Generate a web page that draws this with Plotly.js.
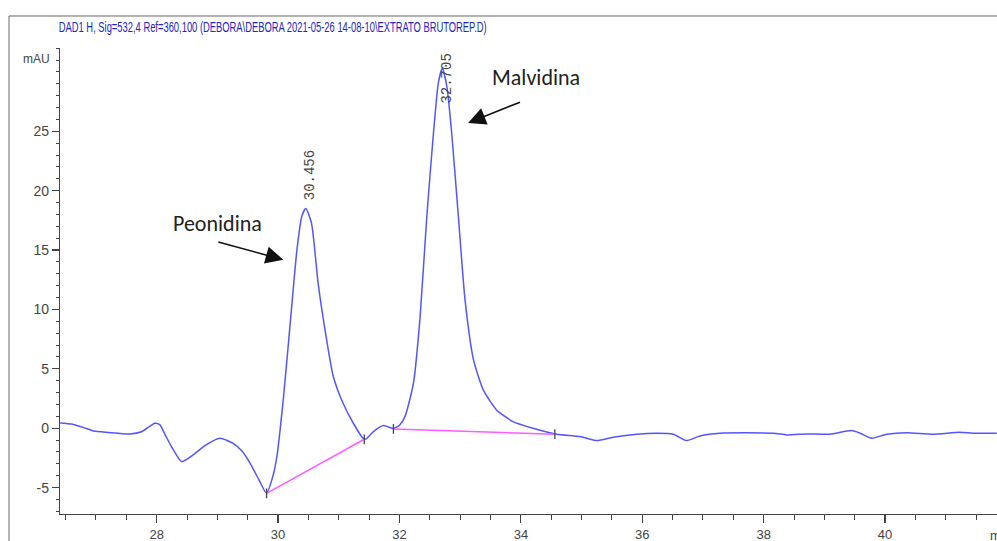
<!DOCTYPE html>
<html>
<head>
<meta charset="utf-8">
<script src="https://cdn.plot.ly/plotly-3.0.1.min.js"></script>
<style>html,body{margin:0;padding:0;background:#fff;}#chart{width:997px;height:541px;}</style>
</head>
<body>
<div id="chart"></div>
<script>
// Retention time (min) and detector signal (mAU)
const timeMin = [26.41,26.60,26.80,26.96,27.20,27.56,27.75,27.97,28.05,28.14,28.25,28.41,28.60,28.80,29.04,29.26,29.40,29.54,29.68,29.81,29.90,29.98,30.09,30.20,30.31,30.39,30.456,30.55,30.66,30.80,30.91,31.07,31.24,31.40,31.45,31.57,31.73,31.82,31.90,32.00,32.09,32.23,32.34,32.45,32.56,32.64,32.705,32.78,32.86,32.97,33.08,33.22,33.38,33.60,33.87,34.20,34.59,34.97,35.25,35.52,35.91,36.24,36.51,36.73,36.95,37.28,38.16,38.38,38.71,39.09,39.45,39.59,39.78,40.03,40.36,40.79,41.23,41.45,41.84];
const signalMAU = [0.45,0.35,0.05,-0.23,-0.35,-0.48,-0.30,0.42,0.30,-0.56,-1.6,-2.81,-2.25,-1.45,-0.84,-1.27,-1.9,-2.95,-4.3,-5.48,-4.3,-2.39,2.66,8.85,15.0,17.83,18.5,17.27,12.2,7.44,4.35,2.1,0.42,-0.84,-0.90,-0.28,0.22,0.10,-0.02,0.25,0.98,3.79,9.4,17.83,24.85,29.06,30.3,28.78,24.85,17.83,10.81,5.75,3.23,1.54,0.56,0.0,-0.50,-0.70,-1.04,-0.76,-0.50,-0.42,-0.50,-1.04,-0.65,-0.42,-0.42,-0.56,-0.48,-0.50,-0.20,-0.42,-0.84,-0.50,-0.37,-0.50,-0.34,-0.42,-0.42];

// Integration baselines (start/end time and signal)
const base1Time = [29.81, 31.42];
const base1Val = [-5.48, -0.93];
const base2Time = [31.90, 34.56];
const base2Val = [-0.06, -0.50];

// Peaks
const peakTimes = [30.456, 32.705];
const peakHeights = [18.5, 30.3];
const peakLabels = ["30.456", "32.705"];
const peakNames = ["Peonidina", "Malvidina"];

// Axis tick labels
const yTickVals = [-5, 0, 5, 10, 15, 20, 25];
const yTickText = ["-5", "0", "5", "10", "15", "20", "25"];
const xTickVals = [28, 30, 32, 34, 36, 38, 40];
const xTickText = ["28", "30", "32", "34", "36", "38", "40"];

const titleText = "DAD1 H, Sig=532,4 Ref=360,100 (DEBORA\\DEBORA 2021-05-26 14-08-10\\EXTRATO BRUTOREP.D)";

const sans = "'Liberation Sans', Arial, sans-serif";

const traces = [
  {x: timeMin, y: signalMAU, type: 'scatter', mode: 'lines',
   line: {color: '#5555ff', width: 1.5, shape: 'spline', smoothing: 0.6}, hoverinfo: 'skip'},
  {x: base1Time, y: base1Val, type: 'scatter', mode: 'lines',
   line: {color: '#ff5cff', width: 1.5}, hoverinfo: 'skip'},
  {x: base2Time, y: base2Val, type: 'scatter', mode: 'lines',
   line: {color: '#ff5cff', width: 1.5}, hoverinfo: 'skip'},
  {x: base1Time.concat(base2Time), y: base1Val.concat(base2Val), type: 'scatter', mode: 'markers',
   marker: {symbol: 'line-ns-open', size: 7, color: '#444', line: {color: '#444', width: 1.3}}, hoverinfo: 'skip'}
];

const annotations = [];
// retention-time labels
const labelShift = [6, -37];
for (let i = 0; i < peakTimes.length; i++) {
  annotations.push({x: peakTimes[i], y: peakHeights[i], xref: 'x', yref: 'y',
    text: peakLabels[i], showarrow: false, textangle: -90,
    xanchor: 'center', yanchor: 'bottom', xshift: 5, yshift: labelShift[i],
    font: {family: "'Liberation Mono', 'DejaVu Sans Mono', monospace", size: 14, color: '#444'}});
}
// compound names with arrows
const nameX = [29.0, 34.25];
const nameY = [17.2, 29.5];
const arrowHeadX = [30.086, 33.13];
const arrowHeadY = [14.18, 25.7];
const arrowTailX = [28.99, 34.01];
const arrowTailY = [15.72, 27.5];
for (let i = 0; i < peakNames.length; i++) {
  annotations.push({x: nameX[i], y: nameY[i], xref: 'x', yref: 'y', text: peakNames[i],
    showarrow: false, xanchor: 'center', yanchor: 'middle',
    font: {family: "Carlito, Calibri, 'Open Sans', sans-serif", size: 22, color: '#222'}});
  annotations.push({x: arrowHeadX[i], y: arrowHeadY[i], xref: 'x', yref: 'y',
    ax: arrowTailX[i], ay: arrowTailY[i], axref: 'x', ayref: 'y', text: '',
    showarrow: true, arrowhead: 2, arrowsize: 2.2, arrowwidth: 1.6, arrowcolor: '#111', standoff: 0});
}
annotations.push({x: -0.0085, y: 0.976, xref: 'paper', yref: 'paper', text: 'mAU', showarrow: false,
  xanchor: 'right', yanchor: 'middle', font: {family: sans, size: 12, color: '#444'}});
annotations.push({x: 0.990, y: -0.047, xref: 'paper', yref: 'paper', text: 'min', showarrow: false,
  xanchor: 'left', yanchor: 'middle', font: {family: sans, size: 13, color: '#444'}});

const layout = {
  width: 997, height: 541,
  margin: {l: 60, r: 0, t: 48, b: 27},
  paper_bgcolor: '#ffffff', plot_bgcolor: '#ffffff',
  showlegend: false,
  title: {text: titleText, x: 0.227, xref: 'paper', xanchor: 'center', y: 0.95, yref: 'container', yanchor: 'middle',
    font: {family: sans, size: 15, color: '#2424c8'}},
  xaxis: {range: [26.407, 41.844], tickvals: xTickVals, ticktext: xTickText, showgrid: false, zeroline: false,
    showline: true, linecolor: '#444', linewidth: 1.2, ticks: 'outside', ticklen: 8, tickcolor: '#444', tickwidth: 1.2,
    minor: {dtick: 0.5, tick0: 0, ticks: 'outside', ticklen: 5, tickcolor: '#444', tickwidth: 1},
    tickfont: {family: sans, size: 13, color: '#444'}},
  yaxis: {range: [-7.22, 32.01], tickvals: yTickVals, ticktext: yTickText, showgrid: false, zeroline: false,
    showline: true, linecolor: '#444', linewidth: 1.2, ticks: 'outside', ticklen: 7, tickcolor: '#444', tickwidth: 1.2,
    minor: {dtick: 1, tick0: 0, ticks: 'outside', ticklen: 3, tickcolor: '#444', tickwidth: 1},
    tickfont: {family: sans, size: 14, color: '#444'}},
  shapes: [
    {type: 'line', xref: 'paper', yref: 'paper', x0: -0.0544, x1: 1.01, y0: 1.0687, y1: 1.0687, line: {color: '#666', width: 1}},
    {type: 'line', xref: 'paper', yref: 'paper', x0: -0.0544, x1: -0.0544, y0: 1.0687, y1: -0.07, line: {color: '#666', width: 1}}
  ],
  annotations: annotations
};

Plotly.newPlot('chart', traces, layout, {displayModeBar: false, staticPlot: true}).then(function (gd) {
  // condense the title horizontally about its centre, like the narrow instrument font
  const t = gd.querySelector('.gtitle');
  if (t) {
    const cx = parseFloat(t.getAttribute('x'));
    t.setAttribute('transform', 'translate(' + cx + ',0) scale(0.625,1) translate(' + (-cx) + ',0)');
  }
});
</script>
</body>
</html>
